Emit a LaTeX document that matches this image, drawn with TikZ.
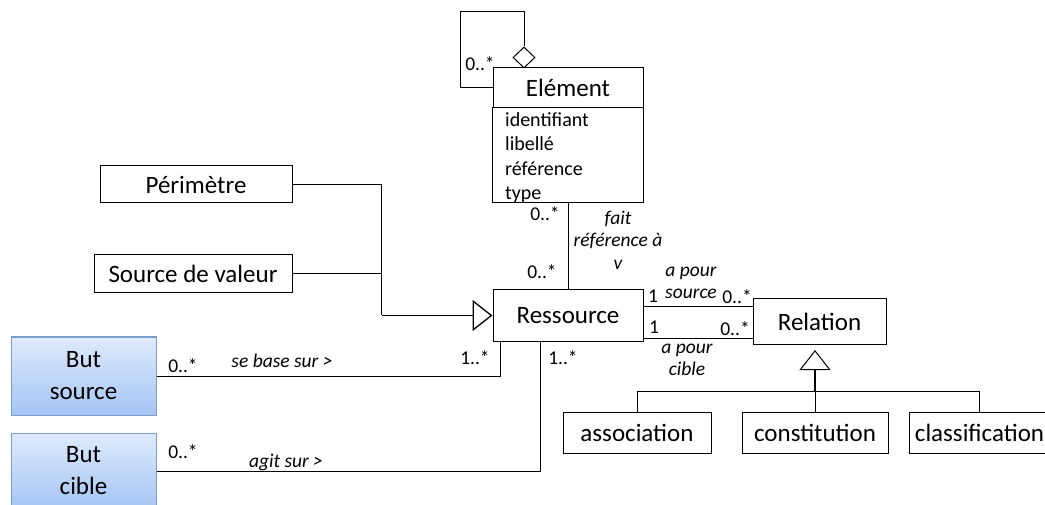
\documentclass[tikz,border=0pt]{standalone}
\usepackage{fontspec}
\setmainfont{Carlito}
\usetikzlibrary{arrows.meta,shapes.geometric}
\definecolor{butTop}{RGB}{222,234,252}
\definecolor{butBot}{RGB}{164,197,244}
\definecolor{butEdge}{RGB}{125,155,205}
\newcommand\fbig{\fontsize{25}{32}\selectfont}
\newcommand\fattr{\fontsize{20}{24.5}\selectfont}
\newcommand\flab{\fontsize{19.5}{22.5}\selectfont\itshape}
\newcommand\fmul{\fontsize{19.5}{22}\selectfont}
\begin{document}
\begin{tikzpicture}[x=1pt,y=-1pt,
  box/.style={draw,line width=1pt,inner sep=0pt,font=\fbig,fill=white},
  butbox/.style={draw=butEdge,line width=1pt,top color=butTop,bottom color=butBot,
    minimum width=145pt,inner sep=0pt,align=center,font=\fbig},
  conn/.style={line width=1pt},
  gen/.style={line width=1pt,-{Triangle[open,length=20pt,width=31pt,fill=white]}},
  mult/.style={inner sep=0pt,font=\fmul},
  lab/.style={inner sep=0pt,align=center,font=\flab}]
\useasboundingbox (0,0) rectangle (1045,505);

% classes
\node[box,minimum width=192pt,minimum height=37pt] (per) at (196,184.5) {Périmètre};
\node[box,minimum width=198pt,minimum height=38pt] (sdv) at (193,274) {Source de valeur};
\node[box,minimum width=150pt,minimum height=40pt] (eltH) at (568,88) {Elément};
\node[box,minimum width=151pt,minimum height=95pt] (eltA) at (567.5,155.5) {};
\node[anchor=north west,inner sep=0pt,align=left,font=\fattr] (attrs) at (505,112)
  {identifiant\\libellé\\référence\\type};
\node[box,minimum width=150pt,minimum height=51pt] (res) at (568,315.5) {Ressource};
\node[box,minimum width=133pt,minimum height=45pt] (rel) at (819.5,321.5) {Relation};
\node[box,minimum width=148pt,minimum height=41pt] (assoc) at (637,432.5) {association};
\node[box,minimum width=146pt,minimum height=41pt] (const) at (815,432.5) {constitution};
\node[box,minimum width=141pt,minimum height=41pt] (class) at (979.5,432.5) {classification};
\node[butbox,minimum height=78pt] (bsrc) at (83.5,376) {But\\source};
\node[butbox,minimum height=76pt] (bcib) at (83.5,471) {But\\cible};

% self aggregation on Element
\node[draw,diamond,fill=white,line width=1pt,minimum width=22pt,minimum height=21pt,inner sep=0pt] (agg) at (524,57.5) {};
\coordinate (lp1) at (460,12);
\draw[conn] (eltH.west) -| (lp1) -| (agg.north);
\node[mult] (mLoop) at (480,64) {0..*};

% Element -- Ressource
\draw[conn] (res.north |- eltA.south) -- (res.north);
\node[mult] (m1) at (545,214) {0..*};
\node[mult] (m2) at (542,272) {0..*};
\node[lab] (lFait) at (618,240) {fait\\référence à\\v};

% generalisation to Ressource
\path (res.west) ++(-111,0) coordinate (jn);
\draw[conn] (per.east) -| (jn);
\draw[conn] (sdv.east) -- (sdv.east -| jn);
\draw[gen,line width=1.3pt] (jn) -- (res.west);

% Ressource -- Relation
\path (res.north east) ++(0,17) coordinate (rs1);
\path (res.south east) ++(0,-3) coordinate (rs2);
\draw[conn] (rs1) -- (rs1 -| rel.west);
\draw[conn] (rs2) -- (rs2 -| rel.west);
\node[mult] (m3) at (653,296) {1};
\node[mult] (m4) at (737,297) {0..*};
\node[mult] (m5) at (654,327) {1};
\node[mult] (m6) at (735,329) {0..*};
\node[lab] (lSrc) at (691,283) {a pour\\source};
\node[lab] (lCib) at (687,360) {a pour\\cible};

% generalisation of Relation
\coordinate (gtop) at (815,350);
\coordinate (gbase) at (815,370);
\coordinate (gjn) at (815,391);
\draw[gen] (gbase) -- (gtop);
\draw[line width=2.5pt] (gjn) -- (gbase);
\draw[conn] (assoc.north) -- (assoc.north |- gjn) -- (class.north |- gjn) -- (class.north);
\draw[conn] (const.north) -- (gjn);

% But source / But cible
\path (res.south west) ++(8,0) coordinate (rb1);
\path (res.south west) ++(48,0) coordinate (rb2);
\draw[conn] (bsrc.east) -| (rb1);
\draw[conn] (bcib.east) -| (rb2);
\node[mult] (m7) at (183,366) {0..*};
\node[mult] (m8) at (475,358) {1..*};
\node[mult] (m9) at (183,452) {0..*};
\node[mult] (m10) at (563,358) {1..*};
\node[lab] (lBase) at (282,361) {se base sur >};
\node[lab] (lAgit) at (286,462) {agit sur >};
\end{tikzpicture}
\end{document}
